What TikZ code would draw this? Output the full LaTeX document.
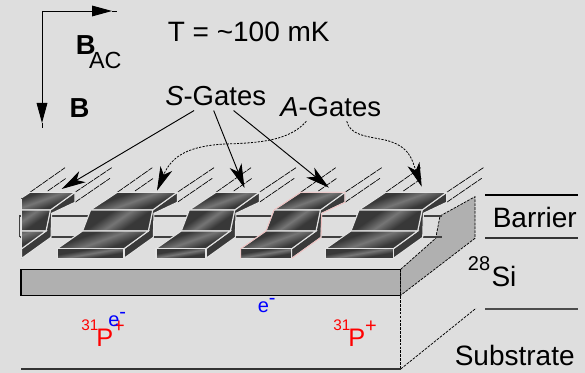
\documentclass[tikz,border=0pt]{standalone}
\usepackage{fontspec}
\setmainfont{Liberation Sans}
\usetikzlibrary{arrows.meta}

\definecolor{bgray}{HTML}{DEDEDE}
\definecolor{sigray}{HTML}{B0B0B0}
\definecolor{gatedark}{HTML}{3A3A3A}
\definecolor{gaterim}{HTML}{E4E4E4}
\definecolor{gatepink}{HTML}{F0BDBD}

\pgfdeclareverticalshading{gateband}{100bp}{rgb(0bp)=(.22,.22,.22); rgb(37bp)=(.22,.22,.22); rgb(50bp)=(.46,.46,.46); rgb(63bp)=(.22,.22,.22); rgb(100bp)=(.22,.22,.22)}

\tikzset{
  lbl/.style={anchor=base west,inner xsep=0pt,inner ysep=3pt,font=\fontsize{20.6}{24}\selectfont},
  biglbl/.style={lbl,font=\fontsize{21}{24}\selectfont},
  small/.style={font=\fontsize{15}{18}\selectfont},
  hatch/.style={line width=0.5pt,dash pattern=on 5pt off 0.7pt},
  gateface/.style={line width=0.8pt,draw=gaterim,shade,shading=gateband},
  sideface/.style={line width=0.8pt,draw=gaterim,fill=gatedark},
  bigtip/.style={-{Stealth[length=18pt,width=9.5pt,inset=5pt]}},
  gatelink/.style={bigtip,line width=0.7pt},
  dotlink/.style={bigtip,line width=0.6pt,dash pattern=on 1.6pt off 1pt},
  rimline/.style={line width=0.55pt,dash pattern=on 2pt off 0.9pt},
  wire/.style={line width=1.6pt,draw=black!75},
}

% #1 = left end of the front face, #2 = width of the front face
\newcommand{\gatehatch}[2]{
  \draw[hatch] (#1+60,192.3) -- (#1+95,167.7);
  \draw[hatch] (#1+77.7,191) -- (#1+96,178.3);
  \draw[hatch] (#1+#2+53.3,192.3) -- (#1+#2+90,167.7);
  \draw[hatch] (#1+#2+53.3,202.3) -- (#1+#2+88.3,178.3);
}
\newcommand{\gatebar}[2]{
  \draw[sideface] (#1+#2,248.7) -- (#1+#2+24.3,231) -- (#1+#2+28.7,210) -- (#1+#2+53.3,192.3)
    -- (#1+#2+53.3,202.3) -- (#1+#2+30,213.3) -- (#1+#2+29.3,237.3) -- (#1+#2,258.3) -- cycle;
  \draw[gateface,shading angle=20] (#1+33.3,210) -- (#1+60,192.3) -- (#1+#2+53.3,192.3) -- (#1+#2+28.7,210) -- cycle;
  \draw[gateface,shading angle=35] (#1+33.3,210) -- (#1+#2+28.7,210) -- (#1+#2+24.3,231) -- (#1+25.3,231) -- cycle;
  \draw[gateface,shading angle=20] (#1+25.3,231) -- (#1+#2+24.3,231) -- (#1+#2,248.7) -- (#1,248.7) -- cycle;
  \draw[gateface,shading angle=10] (#1,248.7) rectangle (#1+#2,258.3);
}
\newcommand{\gateoutline}[3]{
  \draw[line width=0.6pt,#3] (#1,258.3) -- (#1,248.7) -- (#1+25.3,231) -- (#1+33.3,210) -- (#1+60,192.3) -- (#1+#2+53.3,192.3)
    -- (#1+#2+53.3,202.3) -- (#1+#2+30,213.3) -- (#1+#2+29.3,237.3) -- (#1+#2,258.3);
}

\begin{document}
\begin{tikzpicture}[x=0.75pt,y=-0.75pt]
  \useasboundingbox (0,0) rectangle (585,373);
  \fill[bgray] (0,0) rectangle (585,373);

  \coordinate (corner) at (42,11);
  \coordinate (tipac) at (112,11);
  \coordinate (endac) at (117,11);
  \coordinate (tipb) at (42,123);
  \coordinate (endb) at (42,128);
  \draw[line width=0.7pt,-{Stealth[length=15pt,width=8pt,inset=0pt]}] (corner) -- (tipac);
  \draw[line width=0.7pt,-{Stealth[length=15pt,width=8pt,inset=0pt]}] (corner) -- (tipb);
  \draw[line width=0.7pt] (tipac) -- (endac);
  \draw[line width=0.7pt] (tipb) -- (endb);

  \node[lbl] (bac) at (75.7,55) {\textbf{B}\hspace{-5pt}\raisebox{-10pt}{\fontsize{17.5}{20}\selectfont AC}};
  \node[lbl] (bdc) at (69.3,118) {\textbf{B}};
  \node[biglbl] (temp) at (167.5,41.7) {T = \textasciitilde100 mK};
  \node[lbl] (sgates) at (165,106) {\textit{S}-Gates};
  \node[lbl] (agates) at (280,116.7) {\textit{A}-Gates};

  \gatehatch{-30}{51.7}
  \gatehatch{57.3}{66.7}
  \gatehatch{156}{50}
  \gatehatch{240.7}{51}
  \gatehatch{325.7}{67.7}

  \draw[fill=sigray,line width=0.8pt] (21,269.3) rectangle (400.7,295.3);
  \fill[sigray] (400.7,269.3) -- (435.7,238.3) -- (440,216) -- (475,196.7) -- (475,238.3) -- (400.7,295.3) -- cycle;
  \draw[rimline] (400.7,269.3) -- (435.7,238.3) -- (440,216) -- (475,196.7) -- (475,238.3) -- (400.7,295.3);
  \draw[rimline] (400.7,269.3) -- (400.7,369);
  \draw[rimline] (400.7,369) -- (476,308.3);
  \draw[line width=0.8pt,black!80] (21,369) -- (400.7,369);

  \draw[wire] (20,215.7) -- (442,215.7);
  \draw[wire] (20,237.3) -- (442,237.3);
  \draw[line width=0.8pt,black!75] (19.7,215) -- (19.7,237);

  \begin{scope}
    \clip (21.7,180) rectangle (100,270);
    \gatebar{-30}{51.7}
  \end{scope}
  \draw[line width=0.8pt,gaterim] (21.7,199.3) -- (21.7,258.3);
  \gatebar{57.3}{66.7}
  \gatebar{156}{50}
  \gatebar{240.7}{51}
  \gateoutline{240.7}{51}{gatepink}
  \gatebar{325.7}{67.7}

  \coordinate (gatea) at (61.7,189);
  \coordinate (gateb) at (157,190.7);
  \coordinate (gatec) at (244.5,188);
  \coordinate (gated) at (329,187.7);
  \coordinate (gatee) at (421.7,186.7);
  \draw[gatelink] (sgates.-147) -- (gatea);
  \draw[gatelink] (sgates.-98) -- (gatec);
  \draw[gatelink] (sgates.-38) -- (gated);
  \draw[dotlink] (agates.-150) .. controls (290,140) and (262,143) .. (225,144) .. controls (190,146) and (172,155) .. (gateb);
  \draw[dotlink] (agates.-41) .. controls (350,135) and (365,136) .. (385,140) .. controls (410,146) and (412,160) .. (gatee);

  \draw[line width=0.8pt] (485,195) -- (578,195);
  \draw[line width=0.8pt,black!80] (485,238) -- (578,238);
  \draw[line width=0.8pt,black!70] (485,309) -- (578,309);
  \node[biglbl] (barrier) at (492.5,228) {Barrier};
  \node[biglbl] (si) at (467.7,286.7) {\raisebox{12pt}{\fontsize{15}{18}\selectfont 28}\hspace{1pt}Si};
  \node[biglbl] (substrate) at (454.5,366) {Substrate};

  \node[lbl,red,font=\fontsize{19}{22}\selectfont] (pone) at (81,346.7) {\raisebox{11.8pt}{\fontsize{11.5}{14}\selectfont 31}\hspace{-1.5pt}P\raisebox{10.5pt}{\fontsize{15}{14}\selectfont +}};
  \node[lbl,red,font=\fontsize{19}{22}\selectfont] (ptwo) at (333,346.7) {\raisebox{11.8pt}{\fontsize{11.5}{14}\selectfont 31}\hspace{-1.5pt}P\raisebox{10.5pt}{\fontsize{15}{14}\selectfont +}};
  \node[lbl,blue,small] (eone) at (108,327) {e\raisebox{6.5pt}{-}};
  \node[lbl,blue,small] (etwo) at (257.5,312.7) {e\raisebox{6pt}{-}};
\end{tikzpicture}
\end{document}
